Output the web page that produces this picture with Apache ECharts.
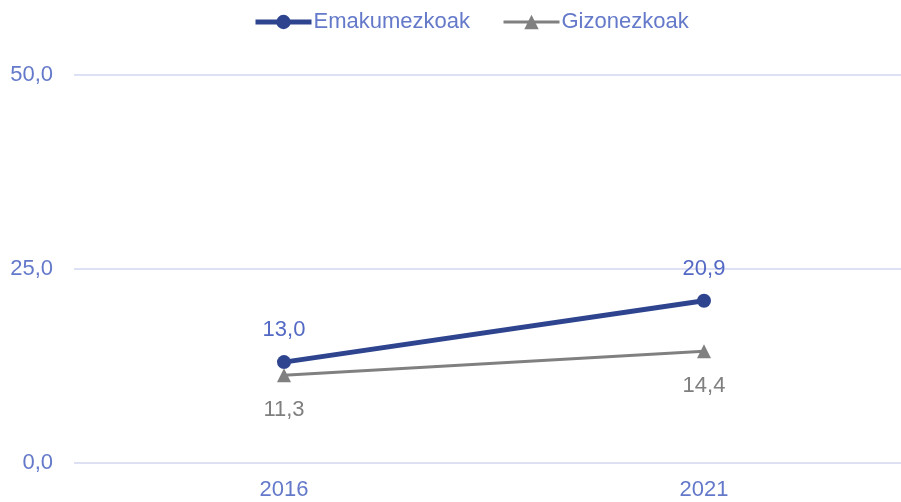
<!DOCTYPE html>
<html>
<head>
<meta charset="utf-8">
<script src="https://cdn.jsdelivr.net/npm/echarts@6/dist/echarts.min.js"></script>
<style>
  html, body { margin: 0; padding: 0; background: #fff; overflow: hidden; }
  #chart { width: 914px; height: 502px; }
</style>
</head>
<body>
<div id="chart"></div>
<script>
const years = ["2016", "2021"];
const emakumezkoak = [13.0, 20.9];
const gizonezkoak = [11.3, 14.4];
const yTicks = [0, 25, 50];

const fmt = (v) => v.toFixed(1).replace(".", ",");
const font = "Liberation Sans, Arial, sans-serif";
const blue = "#2e448f";
const gray = "#808080";

// plot runs a bit past the right edge of the picture, so the div is wider than the window
const myChart = echarts.init(document.getElementById("chart"));
const option = {
  animation: false,
  legend: {
    top: 6,
    left: 248,
    itemWidth: 56,
    itemHeight: 18,
    itemGap: 32,
    textStyle: { color: "#6479c9", fontSize: 22, fontFamily: font, padding: [0, 0, 0, -3] },
    data: [
      { name: "Emakumezkoak", lineStyle: { width: 5, color: blue } },
      { name: "Gizonezkoak", lineStyle: { width: 3, color: gray } },
    ],
  },
  grid: {
    left: 74,
    right: 0,
    top: 75,
    bottom: 39,
    containLabel: false,
  },
  xAxis: {
    type: "category",
    data: years,
    axisLine: { show: false },
    axisTick: { show: false },
    axisLabel: { color: "#6479c9", fontSize: 22, fontFamily: font, margin: 16 },
  },
  yAxis: {
    type: "value",
    min: yTicks[0],
    max: yTicks[yTicks.length - 1],
    interval: 25,
    axisLine: { show: false },
    axisTick: { show: false },
    splitLine: { lineStyle: { color: "#dde1f3", width: 2 } },
    axisLabel: {
      color: "#6479c9",
      fontSize: 22,
      fontFamily: font,
      margin: 21,
      formatter: (v) => fmt(v),
    },
  },
  series: [
    {
      name: "Emakumezkoak",
      type: "line",
      data: emakumezkoak,
      symbol: "circle",
      symbolSize: 14,
      lineStyle: { color: blue, width: 5 },
      itemStyle: { color: blue },
      label: {
        show: true,
        position: "top",
        distance: 14,
        color: "#5369c4",
        fontSize: 22,
        fontFamily: font,
        formatter: (p) => fmt(p.value),
      },
    },
    {
      name: "Gizonezkoak",
      type: "line",
      data: gizonezkoak,
      symbol: "triangle",
      symbolSize: 14,
      lineStyle: { color: gray, width: 3 },
      itemStyle: { color: gray },
      label: {
        show: true,
        position: "bottom",
        distance: 17,
        color: "#7f7f7f",
        fontSize: 22,
        fontFamily: font,
        formatter: (p) => fmt(p.value),
      },
    },
  ],
};
myChart.setOption(option);
</script>
</body>
</html>
